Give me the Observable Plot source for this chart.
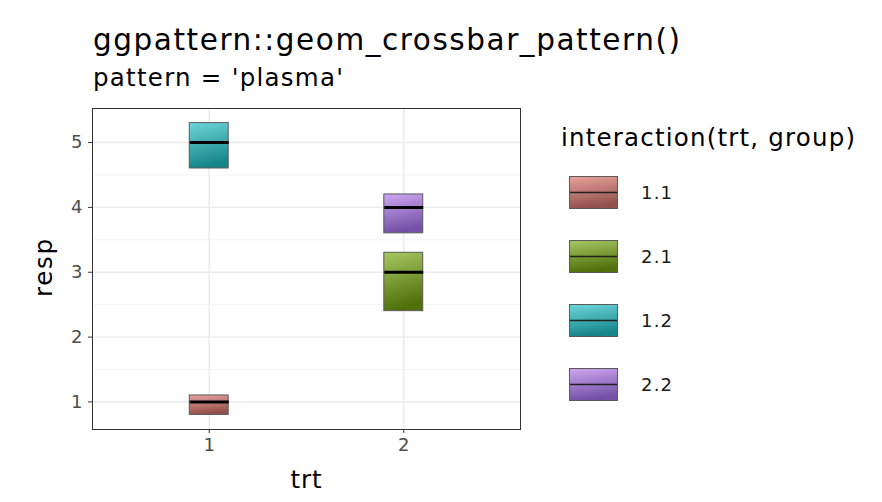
<!DOCTYPE html>
<html>
<head>
<meta charset="utf-8">
<script src="https://cdn.jsdelivr.net/npm/d3@7"></script>
<script src="https://cdn.jsdelivr.net/npm/@observablehq/plot@0.6"></script>
<style>
  html, body { margin: 0; padding: 0; background: #fff; }
  svg { font-family: "DejaVu Sans", sans-serif; }
</style>
</head>
<body>
<div id="chart"></div>
<script>
// Data
const trt = [1, 1, 2, 2];
const group = [1, 2, 1, 2];
const resp = [1, 5, 3, 4];
const upper = [1.1, 5.3, 3.3, 4.2];
const lower = [0.8, 4.6, 2.4, 3.6];
const legendKeys = ["1.1", "2.1", "1.2", "2.2"];
const keyColors = {
  "1.1": ["#e9a29c", "#93514c"],
  "2.1": ["#a8c863", "#50700c"],
  "1.2": ["#6ed6da", "#16868a"],
  "2.2": ["#cfa7f2", "#7451a6"]
};
const yTicks = [1, 2, 3, 4, 5];
const yMinor = [1.5, 2.5, 3.5, 4.5];
const xTicks = [1, 2];

const rows = trt.map((t, i) => ({
  trt: t, group: group[i], resp: resp[i], upper: upper[i], lower: lower[i],
  key: `${t}.${group[i]}`
}));
const gid = k => "g" + k.replace(".", "_");

const W = 882, H = 502;
const mL = 92, mR = 362, mT = 108, mB = 73;

const plot = Plot.plot({
  width: W, height: H,
  marginLeft: mL, marginRight: mR, marginTop: mT, marginBottom: mB,
  style: { fontFamily: "DejaVu Sans, sans-serif", background: "white", fontSize: "18px" },
  x: { domain: [0.4, 2.6], label: null },
  y: { domain: [0.575, 5.525], label: null },
  color: { type: "identity" },
  marks: [
    Plot.ruleY(yMinor, { stroke: "#f4f4f4", strokeWidth: 1 }),
    Plot.ruleY(yTicks, { stroke: "#ebebeb", strokeWidth: 1.4 }),
    Plot.ruleX(xTicks, { stroke: "#ebebeb", strokeWidth: 1.4 }),
    Plot.axisX(xTicks, { tickSize: 4, tickPadding: 5, tickFormat: d => String(d), stroke: "#333", color: "#4d4d4d", fontSize: 18, label: null }),
    Plot.axisY(yTicks, { tickSize: 4, tickPadding: 6, tickFormat: d => String(d), stroke: "#333", color: "#4d4d4d", fontSize: 18, label: null }),
    Plot.rect(rows, {
      x1: d => d.trt - 0.1, x2: d => d.trt + 0.1,
      y1: "lower", y2: "upper",
      fill: d => `url(#${gid(d.key)})`,
      stroke: "#5a5a5a", strokeWidth: 1, inset: 0
    }),
    Plot.link(rows, {
      x1: d => d.trt - 0.1, x2: d => d.trt + 0.1,
      y1: "resp", y2: "resp",
      stroke: "#000", strokeWidth: 3
    }),
    Plot.frame({ stroke: "#333", strokeWidth: 1 })
  ]
});

const svg = d3.select(plot);
// gradients
const defs = svg.insert("defs", ":first-child");
for (const k of legendKeys) {
  const g = defs.append("linearGradient").attr("id", gid(k))
    .attr("x1", 0).attr("y1", 0).attr("x2", 0.2).attr("y2", 1);
  g.append("stop").attr("offset", "0%").attr("stop-color", keyColors[k][0]);
  g.append("stop").attr("offset", "100%").attr("stop-color", keyColors[k][1]);
}

function txt(x, y, size, s, len, anchor = "start", fill = "#000") {
  const t = svg.append("text").attr("x", x).attr("y", y).attr("font-size", size)
    .attr("text-anchor", anchor).attr("fill", fill).text(s);
  if (len) t.attr("textLength", len).attr("lengthAdjust", "spacing");
  return t;
}
// titles
txt(93, 50, 29.5, "ggpattern::geom_crossbar_pattern()", 587);
txt(93, 86, 24.5, "pattern = 'plasma'", 250);
// axis titles
txt(306, 488, 24.5, "trt", 31, "middle");
svg.append("text").attr("transform", "translate(52,268) rotate(-90)").attr("font-size", 24.5)
  .attr("text-anchor", "middle").attr("fill", "#000")
  .attr("textLength", 58).attr("lengthAdjust", "spacing").text("resp");

// legend
txt(561, 146, 24.5, "interaction(trt, group)", 294);
legendKeys.forEach((k, i) => {
  const y0 = 176 + i * 64;
  const gg = svg.append("g");
  gg.append("rect").attr("x", 569.5).attr("y", y0 + 0.5).attr("width", 48).attr("height", 32)
    .attr("fill", `url(#${gid(k)})`).attr("stroke", "#5a5a5a").attr("stroke-width", 1);
  gg.append("line").attr("x1", 570).attr("x2", 617).attr("y1", y0 + 16.5).attr("y2", y0 + 16.5)
    .attr("stroke", "#222").attr("stroke-width", 1.5);
  gg.append("text").attr("x", 641).attr("y", y0 + 23).attr("font-size", 18)
    .attr("text-anchor", "start").attr("fill", "#1a1a1a")
    .attr("textLength", 31).attr("lengthAdjust", "spacing").text(k);
});

document.getElementById("chart").appendChild(plot);
</script>
</body>
</html>
